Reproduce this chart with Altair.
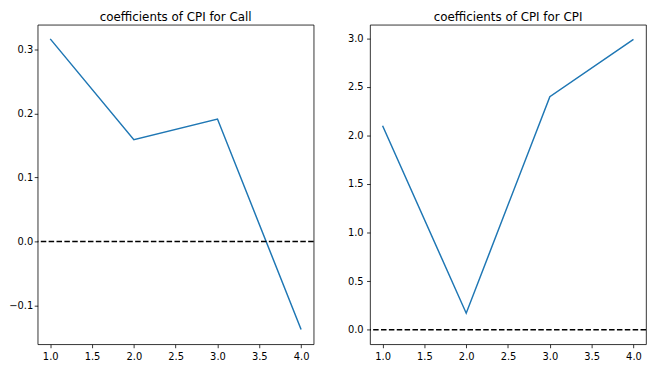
import altair as alt
import pandas as pd

lags = [1.0, 2.0, 3.0, 4.0]
call_coefs = [0.316, 0.159, 0.191, -0.137]
cpi_coefs = [2.10, 0.17, 2.40, 2.99]
x_ticks = [1.0, 1.5, 2.0, 2.5, 3.0, 3.5, 4.0]
call_y_ticks = [-0.1, 0.0, 0.1, 0.2, 0.3]
cpi_y_ticks = [0.0, 0.5, 1.0, 1.5, 2.0, 2.5, 3.0]
titles = ["coefficients of CPI for Call", "coefficients of CPI for CPI"]

FONT = "DejaVu Sans"


def panel(vals, title, ydom, yticks, ypad):
    df = pd.DataFrame({"lag": lags, "coef": vals})
    zero = pd.DataFrame({"y": [0.0]})
    xs = alt.Scale(domain=[0.85, 4.15], nice=False, zero=False)
    ys = alt.Scale(domain=ydom, nice=False, zero=False)
    line = alt.Chart(df).mark_line(color="#1f77b4", strokeWidth=1.5, clip=True).encode(
        x=alt.X("lag:Q", scale=xs, title=None,
                axis=alt.Axis(values=x_ticks, format=".1f", grid=False)),
        y=alt.Y("coef:Q", scale=ys, title=None,
                axis=alt.Axis(values=yticks, format=".1f", grid=False,
                              labelPadding=ypad)),
    )
    hline = alt.Chart(zero).mark_rule(color="black", strokeWidth=1.5,
                                       strokeDash=[5.55, 2.4]).encode(
        y=alt.Y("y:Q", scale=ys)
    )
    return alt.layer(line, hline).properties(
        width=279, height=323,
        title=alt.TitleParams(title, font=FONT, fontSize=12, fontWeight="normal",
                              color="black", anchor="middle", offset=1),
    )


left = panel(call_coefs, titles[0], [-0.16, 0.338], call_y_ticks, 1.5)
right = panel(cpi_coefs, titles[1], [-0.15, 3.14], cpi_y_ticks, 3.5)

chart = alt.hconcat(left, right, spacing=31).properties(
    padding={"left": 0, "top": 0, "right": 0, "bottom": 0},
    background="white",
).configure_view(
    stroke="black", strokeWidth=0.8
).configure_axis(
    grid=False, domain=False, tickColor="black", tickSize=3.5, tickWidth=0.8,
    labelFont=FONT, labelFontSize=10, labelColor="black", labelPadding=3.5,
)

chart.save("out.html", embed_options={"renderer": "svg", "actions": False})
